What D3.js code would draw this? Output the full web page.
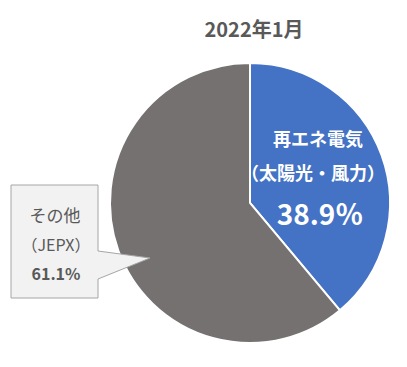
<!DOCTYPE html>
<html><head><meta charset="utf-8">
<script src="https://cdn.jsdelivr.net/npm/d3@7"></script>
<style>body{margin:0;background:#fff}svg{display:block}</style>
</head><body>
<script>
const title = "2022年1月";
const categories = ["再エネ電気（太陽光・風力）", "その他（JEPX）"];
const values = [38.9, 61.1];
const colors = ["#4472C4", "#767171"];
const renewLines = ["再エネ電気", "（太陽光・風力）", "38.9％"];
const otherLines = ["その他", "（JEPX）", "61.1%"];

const W = 407, H = 367;
const cx = 250, cy = 203, r = 140;
const font = "'Noto Sans CJK JP','Noto Sans',sans-serif";

const svg = d3.select("body").append("svg").attr("width", W).attr("height", H);

svg.append("text").attr("x", 254).attr("y", 37).attr("text-anchor", "middle")
  .attr("font-family", font).attr("font-size", 20).attr("font-weight", "bold")
  .attr("fill", "#595959").text(title);

const pie = d3.pie().sort(null).value(d => d)(values);
const arc = d3.arc().innerRadius(0).outerRadius(r);
const g = svg.append("g").attr("transform", `translate(${cx},${cy})`);
g.selectAll("path").data(pie).join("path")
  .attr("d", arc).attr("fill", (d, i) => colors[i])
  .attr("stroke", "#fff").attr("stroke-width", 2);

// labels on the blue slice
const lab = svg.append("g").attr("font-family", font).attr("font-weight", "bold").attr("fill", "#fff").attr("text-anchor", "middle");
lab.append("text").attr("x", 318).attr("y", 146).attr("font-size", 18).text(renewLines[0]);
lab.append("text").attr("x", 313).attr("y", 180).attr("font-size", 18).text(renewLines[1]);
lab.append("text").attr("x", 320).attr("y", 225).attr("font-size", 28).text(renewLines[2]);

// callout for the other slice
const bx0 = 11, bx1 = 98, by0 = 185, by1 = 298;
const tip = [150, 258];
const callout = d3.path();
callout.moveTo(bx0, by0); callout.lineTo(bx1, by0); callout.lineTo(bx1, 251);
callout.lineTo(tip[0], tip[1]); callout.lineTo(bx1, 279); callout.lineTo(bx1, by1);
callout.lineTo(bx0, by1); callout.closePath();
svg.append("path").attr("d", callout.toString()).attr("fill", "#F2F2F2")
  .attr("stroke", "#A6A6A6").attr("stroke-width", 1);

const ot = svg.append("g").attr("font-family", font).attr("fill", "#595959").attr("text-anchor", "middle").attr("font-size", 16);
ot.append("text").attr("x", 55).attr("y", 222).attr("font-size", 17).text(otherLines[0]);
ot.append("text").attr("x", 56).attr("y", 251).text(otherLines[1]);
ot.append("text").attr("x", 56).attr("y", 280).attr("font-weight", "bold").text(otherLines[2]);
</script>
</body></html>
